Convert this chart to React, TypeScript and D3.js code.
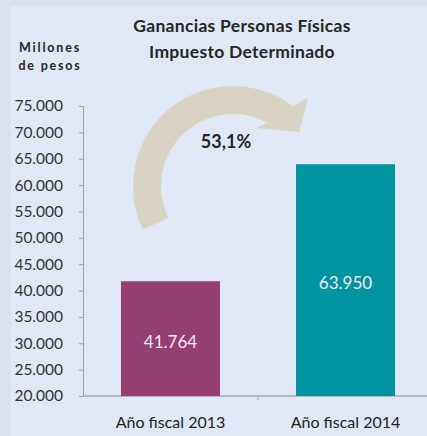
import React, { useEffect, useRef } from "react";
import * as d3 from "d3";

const categories = ["Año fiscal 2013", "Año fiscal 2014"];
const values = [41764, 63950];
const barColors = ["#943f70", "#0094a0"];
const yTicks = [20000, 25000, 30000, 35000, 40000, 45000, 50000, 55000, 60000, 65000, 70000, 75000];
const growthLabel = "53,1%";
const titleLines = ["Ganancias Personas Físicas", "Impuesto Determinado"];
const unitLines = ["Millones", "de pesos"];

const W = 427;
const H = 436;
const FONT = "Lato, 'Open Sans', sans-serif";

function fmt(v: number) {
  return d3.format(",")(v).replace(/,/g, ".");
}

export default function App() {
  const ref = useRef<SVGSVGElement>(null);

  useEffect(() => {
    const svg = d3.select(ref.current);
    svg.selectAll("*").remove();

    // outer and inner panel
    svg.append("rect").attr("width", W).attr("height", H).attr("fill", "#d9e0ee");
    svg.append("rect").attr("x", 11).attr("y", 6).attr("width", W - 11).attr("height", H - 6).attr("fill", "#dfe8f4");

    const x = d3.scaleBand<string>()
      .domain(categories)
      .range([83, 433])
      .paddingInner(0.434)
      .paddingOuter(0.217);

    const y = d3.scaleLinear()
      .domain([20000, 75000])
      .range([396, 106]);

    // y axis
    const yAxis = svg.append("g")
      .attr("transform", "translate(83,0)")
      .call(d3.axisLeft(y).tickValues(yTicks).tickSize(4).tickPadding(16).tickFormat(d => fmt(+d)));
    yAxis.select(".domain").attr("stroke", "#a0a0a0");
    yAxis.selectAll(".tick line").attr("stroke", "#a0a0a0");
    yAxis.selectAll(".tick text")
      .attr("font-family", FONT)
      .attr("font-size", 15.5)
      .attr("fill", "#333");

    // x axis
    svg.append("line")
      .attr("x1", 83).attr("x2", W)
      .attr("y1", y(20000)).attr("y2", y(20000))
      .attr("stroke", "#a8a8a8").attr("stroke-width", 1.5);
    const mid = (x(categories[0])! + x.bandwidth() + x(categories[1])!) / 2;
    svg.append("line")
      .attr("x1", mid).attr("x2", mid)
      .attr("y1", y(20000)).attr("y2", y(20000) + 4)
      .attr("stroke", "#a0a0a0");

    svg.selectAll("text.xlab")
      .data(categories)
      .join("text")
      .attr("class", "xlab")
      .attr("x", d => x(d)! + x.bandwidth() / 2)
      .attr("y", 428)
      .attr("text-anchor", "middle")
      .attr("font-family", FONT)
      .attr("font-size", 16)
      .attr("fill", "#222")
      .text(d => d);

    // bars
    svg.selectAll("rect.bar")
      .data(values)
      .join("rect")
      .attr("class", "bar")
      .attr("x", (d, i) => x(categories[i])!)
      .attr("y", d => y(d))
      .attr("width", x.bandwidth())
      .attr("height", d => y(20000) - y(d))
      .attr("fill", (d, i) => barColors[i]);

    svg.selectAll("text.val")
      .data(values)
      .join("text")
      .attr("class", "val")
      .attr("x", (d, i) => x(categories[i])! + x.bandwidth() / 2)
      .attr("y", d => (y(d) + y(20000)) / 2 + 3)
      .attr("dy", "0.35em")
      .attr("text-anchor", "middle")
      .attr("font-family", FONT)
      .attr("font-size", 17)
      .attr("fill", "#f4e8f2")
      .text(d => fmt(d));

    // curved arrow
    const cx = 233, cy = 186;
    const g = svg.append("g").attr("transform", `translate(${cx},${cy})`);
    const a1 = 33 * Math.PI / 180;
    const arc = d3.arc<any>()
      .innerRadius(72)
      .outerRadius(100)
      .startAngle(-116 * Math.PI / 180)
      .endAngle(a1);
    g.append("path").attr("d", arc({}) as string).attr("fill", "#d8d3c3");
    g.append("path")
      .attr("d", d3.line()([
        [293 - cx, 106 - cy],
        [308 - cx, 98 - cy],
        [299 - cx, 132 - cy],
        [257 - cx, 128 - cy],
        [268 - cx, 122 - cy],
        [72 * Math.sin(a1) - 1, -72 * Math.cos(a1)],
        [100 * Math.sin(a1) - 1, -100 * Math.cos(a1)],
      ]) + "Z")
      .attr("fill", "#d8d3c3");

    svg.append("text")
      .attr("x", 226)
      .attr("y", 148)
      .attr("text-anchor", "middle")
      .attr("font-family", FONT)
      .attr("font-size", 18)
      .attr("font-weight", "bold")
      .attr("fill", "#262626")
      .text(growthLabel);

    // titles
    svg.selectAll("text.title")
      .data(titleLines)
      .join("text")
      .attr("class", "title")
      .attr("x", 242)
      .attr("y", (d, i) => 32 + i * 26)
      .attr("text-anchor", "middle")
      .attr("font-family", FONT)
      .attr("font-size", 17.5)
      .attr("font-weight", "bold")
      .attr("letter-spacing", 0.3)
      .attr("fill", "#262626")
      .text(d => d);

    svg.selectAll("text.unit")
      .data(unitLines)
      .join("text")
      .attr("class", "unit")
      .attr("x", 50)
      .attr("y", (d, i) => 52 + i * 18)
      .attr("text-anchor", "middle")
      .attr("font-family", FONT)
      .attr("font-size", 12.5)
      .attr("font-weight", "bold")
      .attr("letter-spacing", 1.8)
      .attr("fill", "#262626")
      .text(d => d);
  }, []);

  return (
    <svg
      ref={ref}
      width={W}
      height={H}
      style={{ position: "absolute", left: 0, top: 0, display: "block" }}
    />
  );
}
